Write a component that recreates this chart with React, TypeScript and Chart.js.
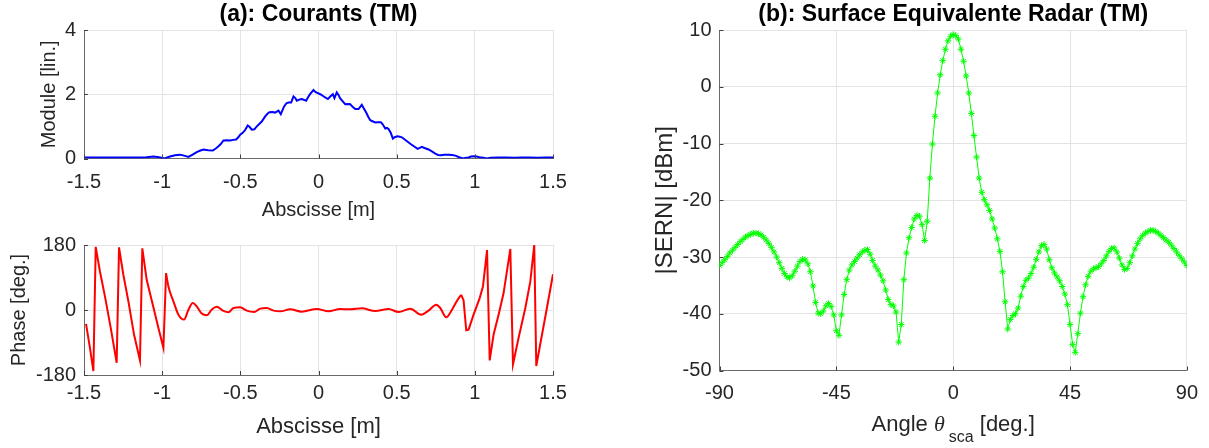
import React, { useEffect, useRef } from "react";
import { Chart, registerables } from "chart.js";

Chart.register(...registerables);

const FONT = "'Liberation Sans', Arial, Helvetica, sans-serif";
const TICK_COLOR = "#262626";
const GRID_COLOR = "#e3e3e3";
const AXIS_COLOR = "#6a6a6a";

// ---------- (a) Courants : module ----------
const moduleX = [
  -1.5, -1.45, -1.4, -1.35, -1.3, -1.25, -1.2, -1.15, -1.1, -1.056, -1.02, -0.985, -0.95, -0.918, -0.886, -0.86,
  -0.832, -0.805, -0.779, -0.755, -0.736, -0.705, -0.676, -0.655, -0.64, -0.625, -0.608, -0.585, -0.565, -0.545,
  -0.527, -0.513, -0.501, -0.485, -0.47, -0.453, -0.44, -0.427, -0.41, -0.395, -0.384, -0.363, -0.341, -0.325,
  -0.314, -0.295, -0.278, -0.256, -0.241, -0.22, -0.205, -0.192, -0.175, -0.16, -0.148, -0.139, -0.12, -0.107,
  -0.09, -0.079, -0.065, -0.053, -0.032, -0.02, -0.011, 0.011, 0.025, 0.043, 0.06, 0.075, 0.092, 0.102, 0.117,
  0.128, 0.138, 0.155, 0.171, 0.19, 0.203, 0.22, 0.235, 0.256, 0.277, 0.29, 0.305, 0.318, 0.331, 0.345, 0.363,
  0.38, 0.399, 0.413, 0.427, 0.438, 0.448, 0.462, 0.476, 0.49, 0.506, 0.52, 0.533, 0.56, 0.587, 0.61, 0.634,
  0.648, 0.661, 0.682, 0.704, 0.725, 0.747, 0.765, 0.783, 0.805, 0.832, 0.855, 0.875, 0.9, 0.924, 0.945, 0.96,
  0.975, 0.992, 1.01, 1.03, 1.055, 1.077, 1.1, 1.15, 1.2, 1.25, 1.3, 1.35, 1.4, 1.45, 1.5,
];
const moduleVal = [
  0.03, 0.03, 0.03, 0.03, 0.03, 0.035, 0.03, 0.03, 0.04, 0.06, 0.04, 0.0, 0.06, 0.1, 0.12, 0.09,
  0.05, 0.12, 0.2, 0.25, 0.28, 0.26, 0.25, 0.32, 0.38, 0.45, 0.56, 0.57, 0.56, 0.58,
  0.59, 0.66, 0.74, 0.8, 0.88, 1.03, 0.98, 0.9, 0.91, 1.0, 1.05, 1.15, 1.31, 1.4,
  1.44, 1.45, 1.43, 1.49, 1.38, 1.62, 1.72, 1.74, 1.74, 1.93, 1.88, 1.8, 1.84, 1.85,
  1.82, 1.8, 1.92, 2.01, 2.13, 2.07, 2.05, 2.0, 1.96, 1.9, 1.85, 1.93, 2.0, 1.88, 2.06,
  1.98, 1.88, 1.78, 1.69, 1.7, 1.69, 1.6, 1.54, 1.54, 1.67, 1.56, 1.43, 1.3, 1.19, 1.16, 1.12,
  1.13, 1.13, 1.05, 0.93, 0.95, 0.92, 0.8, 0.62, 0.67, 0.69, 0.68, 0.66, 0.56, 0.46, 0.38, 0.3,
  0.33, 0.36, 0.32, 0.28, 0.22, 0.15, 0.11, 0.1, 0.12, 0.12, 0.11, 0.09, 0.04, 0.0, 0.02, 0.03,
  0.06, 0.07, 0.06, 0.04, 0.02, 0.0, 0.02, 0.03, 0.03, 0.02, 0.03, 0.03, 0.02, 0.03, 0.03,
];

// ---------- (a) Courants : phase ----------
const phaseX = [
  -1.487, -1.462, -1.44, -1.425, -1.398, -1.366, -1.329, -1.291, -1.276, -1.248, -1.216, -1.18, -1.142, -1.127,
  -1.099, -1.06, -1.024, -0.992, -0.975, -0.96, -0.928, -0.896, -0.86, -0.832, -0.804, -0.779, -0.747, -0.715,
  -0.683, -0.651, -0.612, -0.576, -0.544, -0.501, -0.459, -0.412, -0.373, -0.331, -0.288, -0.245, -0.181, -0.107,
  -0.011, 0.064, 0.139, 0.203, 0.277, 0.363, 0.448, 0.512, 0.587, 0.657, 0.704, 0.753, 0.779, 0.817, 0.854,
  0.886, 0.913, 0.928, 0.945, 0.96, 0.992, 1.031, 1.052, 1.078, 1.095, 1.12, 1.152, 1.184, 1.227, 1.244, 1.28,
  1.323, 1.355, 1.38, 1.393, 1.418, 1.461, 1.5,
];
const phaseVal = [
  -38.6, -104.7, -169, 175, 106.5, 37.6, -49.6, -146, 173.5, 97, 23.9, -68, -139.5, 170.7,
  83.5, 14.7, -49.6, -104.7, 101.9, 65.2, 23.9, -12.9, -26.6, 0.9, 19.3, 10, -10, -14.7,
  0.9, 9.2, -1.8, -6.4, 5.5, 7.3, -1.8, -5.5, 3.7, 5.5, -1.8, -3.7, 1.8, -4.6,
  2.8, -3.7, 2.8, 1.8, 4.6, -2.8, 2.8, -5.5, 3.7, -12.9, -1.8, 14.7, 5.5, -20.2, 0.9,
  25.7, 42.2, 26.6, -56, -54.2, -12.9, 33, 65.2, 166, -139.5, -68, -12.9, 46.8, 169, -150.5, -77,
  5.5, 79, 180, -155, -95.5, 5.5, 99,
];
// index ranges: wrapped (saw-tooth) edges and the smooth central ripple
const phaseSmoothStart = 18;
const phaseSmoothEnd = 58;

// ---------- (b) Surface Equivalente Radar ----------
const sernAngle = [
  -90, -89, -88, -87, -86, -85, -84, -83, -82, -81, -80, -79, -78, -77, -76, -75, -74, -73, -72, -71,
  -70, -69, -68, -67, -66, -65, -64, -63, -62, -61, -60, -59, -58, -57, -56, -55, -54, -53, -52, -51,
  -50, -49, -48, -47, -46, -45, -44, -43, -42, -41, -40, -39, -38, -37, -36, -35, -34, -33, -32, -31,
  -30, -29, -28, -27, -26, -25, -24, -23, -22, -21, -20, -19, -18, -17, -16, -15, -14, -13, -12, -11,
  -10, -9, -8, -7, -6, -5, -4, -3, -2, -1, 0, 1, 2, 3, 4, 5, 6, 7, 8, 9,
  10, 11, 12, 13, 14, 15, 16, 17, 18, 19, 20, 21, 22, 23, 24, 25, 26, 27, 28, 29,
  30, 31, 32, 33, 34, 35, 36, 37, 38, 39, 40, 41, 42, 43, 44, 45, 46, 47, 48, 49,
  50, 51, 52, 53, 54, 55, 56, 57, 58, 59, 60, 61, 62, 63, 64, 65, 66, 67, 68, 69,
  70, 71, 72, 73, 74, 75, 76, 77, 78, 79, 80, 81, 82, 83, 84, 85, 86, 87, 88, 89, 90,
];
const sernDb = [
  -31.5, -31.0, -30.5, -29.9, -29.3, -28.8, -28.3, -27.8, -27.3, -26.9,
  -26.5, -26.2, -26.0, -25.8, -25.8, -25.9, -26.1, -26.5, -27.0, -27.6,
  -28.3, -29.1, -30.0, -31.0, -32.0, -32.9, -33.5, -33.7, -33.3, -32.5,
  -31.6, -30.8, -30.4, -30.5, -31.2, -32.6, -35.1, -38.0, -39.9, -40.0,
  -39.5, -38.6, -38.2, -38.7, -40.2, -43.0, -43.8, -40.2, -36.6, -34.0,
  -32.3, -31.4, -30.8, -30.2, -29.6, -29.1, -28.8, -28.7, -29.5, -30.6,
  -31.6, -32.3, -33.2, -34.2, -35.8, -37.5, -38.4, -38.6, -39.7, -45.0,
  -41.9, -34.0, -29.3, -26.6, -24.8, -23.3, -22.7, -22.8, -24.3, -27.1,
  -23.7, -16.1, -10.1, -5.2, -1.1, 2.1, 4.6, 6.6, 8.1, 8.9,
  9.2,
  9.0, 8.4, 6.6, 4.5, 1.9, -1.1, -4.7, -8.6, -12.4, -16.1,
  -18.6, -19.9, -20.8, -21.8, -23.3, -24.9, -26.8, -29.0, -32.6, -37.9,
  -42.7, -41.0, -40.3, -40.0, -39.0, -36.9, -35.2, -34.1, -33.7, -32.9,
  -31.8, -30.4, -29.1, -28.0, -27.8, -28.6, -30.5, -31.9, -32.8, -33.5,
  -34.2, -35.2, -36.5, -38.4, -41.9, -45.4, -46.8, -43.5, -39.9, -37.0,
  -34.9, -33.4, -32.5, -32.1, -31.9, -31.7, -31.2, -30.6, -29.8, -29.0,
  -28.5, -28.4, -29.1, -30.2, -31.4, -32.2, -32.0, -31.0, -29.8, -28.6,
  -27.6, -26.8, -26.2, -25.8, -25.5, -25.3, -25.3, -25.5, -25.8, -26.2,
  -26.6, -27.0, -27.4, -27.9, -28.5, -29.1, -29.7, -30.3, -30.9, -31.5,
];

// tick definitions
const abscisseTicks = [-1.5, -1, -0.5, 0, 0.5, 1, 1.5];
const moduleTicks = [0, 2, 4];
const phaseTicks = [-180, 0, 180];
const angleTicks = [-90, -45, 0, 45, 90];
const sernTicks = [-50, -40, -30, -20, -10, 0, 10];

const toXY = (xs: number[], ys: number[]) => xs.map((x, i) => ({ x, y: ys[i] }));

// inward tick marks (MATLAB style)
const innerTicks = {
  id: "innerTicks",
  afterDraw(chart: any) {
    const { ctx, chartArea: a } = chart;
    const xs = chart.scales.x;
    const ys = chart.scales.y;
    ctx.save();
    ctx.strokeStyle = "#404040";
    ctx.lineWidth = 1;
    ctx.beginPath();
    xs.ticks.forEach((t: any) => {
      const p = Math.round(xs.getPixelForValue(t.value)) + 0.5;
      ctx.moveTo(p, a.bottom);
      ctx.lineTo(p, a.bottom - 4);
    });
    ys.ticks.forEach((t: any) => {
      const p = Math.round(ys.getPixelForValue(t.value)) + 0.5;
      ctx.moveTo(a.left, p);
      ctx.lineTo(a.left + 4, p);
    });
    ctx.stroke();
    ctx.restore();
  },
};

// x-axis title with subscript for panel (b)
const angleTitle = {
  id: "angleTitle",
  afterDraw(chart: any) {
    const { ctx, chartArea: a } = chart;
    const parts: [string, string, number, number][] = [
      ["Angle ", `22px ${FONT}`, 0, 0],
      ["\u03B8", `italic 22px 'Liberation Serif', 'DejaVu Serif', serif`, 0, 4],
      ["sca", `16px ${FONT}`, 11, 0],
      [" [deg.]", `22px ${FONT}`, 0, 0],
    ];
    ctx.save();
    ctx.fillStyle = TICK_COLOR;
    ctx.textBaseline = "alphabetic";
    ctx.textAlign = "left";
    let total = 0;
    const widths = parts.map(([txt, font, , gap]) => {
      ctx.font = font;
      const w = ctx.measureText(txt).width + gap;
      total += w;
      return w;
    });
    let x = (a.left + a.right) / 2 - total / 2;
    const base = 431;
    parts.forEach(([txt, font, dy], i) => {
      ctx.font = font;
      ctx.fillText(txt, x, base + dy);
      x += widths[i];
    });
    ctx.restore();
  },
};

type PanelSpec = {
  width: number;
  height: number;
  area: { left: number; top: number; right: number; bottom: number };
  title?: string;
  datasets: any[];
  x: { min: number; max: number; ticks: number[]; tickPad: number; title?: string; titleSize?: number; titlePadBottom?: number };
  y: { min: number; max: number; ticks: number[]; title: string; titleSize: number; titleCenterX: number };
  plugins: any[];
};

const TITLE_SIZE = 23;

function makeConfig(s: PanelSpec): any {
  const yLH = s.y.titleSize * 1.2;
  const hasTitle = !!s.title;
  const xHeight = s.height - s.area.bottom;
  const tLH = TITLE_SIZE * 1.2;
  return {
    type: "line",
    data: { datasets: s.datasets },
    plugins: s.plugins,
    options: {
      animation: false,
      responsive: false,
      events: [],
      layout: {
        padding: {
          left: 0,
          right: s.width - s.area.right,
          top: hasTitle ? 0 : s.area.top,
          bottom: 0,
        },
      },
      plugins: {
        legend: { display: false },
        tooltip: { enabled: false },
        title: {
          display: hasTitle,
          text: s.title || "",
          fullSize: false,
          color: "#000000",
          font: { family: FONT, size: TITLE_SIZE, weight: "bold", lineHeight: 1.2 },
          padding: { top: 0.5, bottom: s.area.top - tLH - 0.5 },
        },
      },
      scales: {
        x: {
          type: "linear",
          min: s.x.min,
          max: s.x.max,
          afterBuildTicks: (scale: any) => {
            scale.ticks = s.x.ticks.map((v) => ({ value: v }));
          },
          afterFit: (scale: any) => {
            scale.height = xHeight;
          },
          ticks: {
            color: TICK_COLOR,
            font: { family: FONT, size: 20, lineHeight: 1.2 },
            padding: s.x.tickPad,
            maxRotation: 0,
            autoSkip: false,
            callback: (v: number) => String(v),
          },
          grid: { color: GRID_COLOR, lineWidth: 1, drawTicks: false },
          border: { display: true, color: AXIS_COLOR, width: 1 },
          title: {
            display: !!s.x.title,
            text: s.x.title || "",
            color: TICK_COLOR,
            font: { family: FONT, size: s.x.titleSize || 20, lineHeight: 1.2 },
            padding: { top: 0, bottom: s.x.titlePadBottom || 0 },
          },
        },
        y: {
          type: "linear",
          min: s.y.min,
          max: s.y.max,
          afterBuildTicks: (scale: any) => {
            scale.ticks = s.y.ticks.map((v) => ({ value: v }));
          },
          afterFit: (scale: any) => {
            scale.width = s.area.left;
          },
          ticks: {
            color: TICK_COLOR,
            font: { family: FONT, size: 20, lineHeight: 1.2 },
            padding: 8,
            callback: (v: number) => String(v),
          },
          grid: { color: GRID_COLOR, lineWidth: 1, drawTicks: false },
          border: { display: true, color: AXIS_COLOR, width: 1 },
          title: {
            display: true,
            text: s.y.title,
            color: TICK_COLOR,
            font: { family: FONT, size: s.y.titleSize, lineHeight: 1.2 },
            padding: { top: s.y.titleCenterX - yLH / 2, bottom: 0 },
          },
        },
      },
    },
  };
}

function Panel({ left, top, spec }: { left: number; top: number; spec: PanelSpec }) {
  const ref = useRef<HTMLCanvasElement>(null);
  useEffect(() => {
    const chart = new Chart(ref.current as HTMLCanvasElement, makeConfig(spec));
    return () => chart.destroy();
  }, []);
  return (
    <canvas
      ref={ref}
      width={spec.width}
      height={spec.height}
      style={{ position: "absolute", left, top, width: spec.width, height: spec.height }}
    />
  );
}

const moduleSpec: PanelSpec = {
  width: 600,
  height: 225,
  area: { left: 84, top: 30, right: 553, bottom: 158.5 },
  title: "(a): Courants (TM)",
  datasets: [
    {
      data: toXY(moduleX, moduleVal),
      borderColor: "#0000ff",
      borderWidth: 2,
      pointRadius: 0,
      fill: false,
      tension: 0,
    },
  ],
  x: { min: -1.5, max: 1.5, ticks: abscisseTicks, tickPad: 12, title: "Abscisse [m]", titleSize: 20, titlePadBottom: 3 },
  y: { min: 0, max: 4, ticks: moduleTicks, title: "Module [lin.]", titleSize: 20, titleCenterX: 49 },
  plugins: [innerTicks],
};

const phaseLine = { borderColor: "#ff0000", borderWidth: 2, pointRadius: 0, fill: false };
const phasePoints = toXY(phaseX, phaseVal);

const phaseSpec: PanelSpec = {
  width: 600,
  height: 223,
  area: { left: 84, top: 20, right: 553, bottom: 150 },
  datasets: [
    { ...phaseLine, data: phasePoints.slice(0, phaseSmoothStart + 1), tension: 0 },
    {
      ...phaseLine,
      data: phasePoints.slice(phaseSmoothStart, phaseSmoothEnd + 1),
      cubicInterpolationMode: "monotone",
    },
    { ...phaseLine, data: phasePoints.slice(phaseSmoothEnd), tension: 0 },
  ],
  x: { min: -1.5, max: 1.5, ticks: abscisseTicks, tickPad: 6, title: "Abscisse [m]", titleSize: 22, titlePadBottom: 8 },
  y: { min: -180, max: 180, ticks: phaseTicks, title: "Phase [deg.]", titleSize: 20, titleCenterX: 19 },
  plugins: [innerTicks],
};

const sernSpec: PanelSpec = {
  width: 609,
  height: 448,
  area: { left: 119.5, top: 30, right: 588.5, bottom: 370.5 },
  title: "(b): Surface Equivalente Radar (TM)",
  datasets: [
    {
      data: toXY(sernAngle, sernDb),
      borderColor: "#00ff00",
      borderWidth: 1,
      pointStyle: "star",
      pointRadius: 3.2,
      pointBorderWidth: 1,
      pointBorderColor: "#00ff00",
      pointBackgroundColor: "#00ff00",
      fill: false,
      tension: 0,
    },
  ],
  x: { min: -90, max: 90, ticks: angleTicks, tickPad: 11 },
  y: { min: -50, max: 10, ticks: sernTicks, title: "|SERN| [dBm]", titleSize: 24, titleCenterX: 65 },
  plugins: [innerTicks, angleTitle],
};

export default function App() {
  return (
    <div style={{ position: "absolute", left: 0, top: 0, width: 1209, height: 448, background: "#ffffff" }}>
      <Panel left={0} top={0} spec={moduleSpec} />
      <Panel left={0} top={225} spec={phaseSpec} />
      <Panel left={600} top={0} spec={sernSpec} />
    </div>
  );
}
